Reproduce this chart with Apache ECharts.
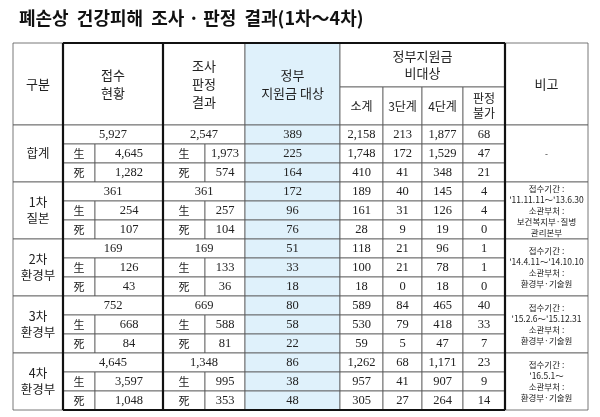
<!DOCTYPE html><html><head><meta charset="utf-8"><script src="https://cdn.jsdelivr.net/npm/echarts@6/dist/echarts.min.js"></script>
<style>html,body{margin:0;padding:0;background:#fff}#c{width:600px;height:417px}</style></head><body><div id="c"></div><script>
const title='폐손상  건강피해  조사 · 판정  결과(1차～4차)';
const groups=['합계','1차\n질본','2차\n환경부','3차\n환경부','4차\n환경부'];
const receipt=[[5927,4645,1282],[361,254,107],[169,126,43],[752,668,84],[4645,3597,1048]];
const survey=[[2547,1973,574],[361,257,104],[169,133,36],[669,588,81],[1348,995,353]];
const support=[[389,225,164],[172,96,76],[51,33,18],[80,58,22],[86,38,48]];
const subtotal=[[2158,1748,410],[189,161,28],[118,100,18],[589,530,59],[1262,957,305]];
const stage3=[[213,172,41],[40,31,9],[21,21,0],[84,79,5],[68,41,27]];
const stage4=[[1877,1529,348],[145,126,19],[96,78,18],[465,418,47],[1171,907,264]];
const unable=[[68,47,21],[4,4,0],[1,1,0],[40,33,7],[23,9,14]];
const notes=['-',"접수기간 :\n'11.11.11～'13.6.30\n소관부처 :\n보건복지부·질병\n관리본부","접수기간 :\n'14.4.11～'14.10.10\n소관부처 :\n환경부·기술원","접수기간 :\n'15.2.6～'15.12.31\n소관부처 :\n환경부·기술원","접수기간 :\n'16.5.1～\n소관부처 :\n환경부·기술원"];
const subLabels=['生','死'];

const X=[13,63,95,163,205,245,340,383,422,463,505,588];
const HT=43,HM=87,R0=125,RH=19;
const fmt=v=>v.toLocaleString('en-US');
const cells=[];
function cell(x0,y0,x1,y1,t,o){o=o||{};cells.push([x0,y0,x1,y1,t,o.fill||'#fff',o.fs||12.5,o.font||'Liberation Serif, Noto Serif CJK KR, Noto Sans CJK KR',o.lh||15]);}
const hf='Noto Sans CJK KR';
cell(X[0],HT,X[1],R0,'구분',{font:hf,fs:13});
cell(X[1],HT,X[3],R0,'접수\n현황',{font:hf,fs:13,lh:18});
cell(X[3],HT,X[5],R0,'조사\n판정\n결과',{font:hf,fs:13,lh:18});
cell(X[5],HT,X[6],R0,'정부\n지원금 대상',{font:hf,fs:13,lh:18,fill:'#dff1fb'});
cell(X[6],HT,X[10],HM,'정부지원금\n비대상',{font:hf,fs:13,lh:17});
['소계','3단계','4단계','판정\n불가'].forEach((t,i)=>cell(X[6+i],HM,X[7+i],R0,t,{font:hf,fs:12,lh:15}));
cell(X[10],HT,X[11],R0,'비고',{font:hf,fs:13});
groups.forEach((g,gi)=>{
  const y=R0+gi*3*RH;
  cell(X[0],y,X[1],y+3*RH,g,{font:hf,fs:12.5,lh:16});
  cell(X[10],y,X[11],y+3*RH,notes[gi],{font:hf,fs:8.5,lh:11});
  for(let r=0;r<3;r++){
    const a=y+r*RH,b=a+RH;
    if(r===0){cell(X[1],a,X[3],b,fmt(receipt[gi][0]));cell(X[3],a,X[5],b,fmt(survey[gi][0]));}
    else{cell(X[1],a,X[2],b,subLabels[r-1],{font:hf,fs:11});cell(X[2],a,X[3],b,fmt(receipt[gi][r]));
         cell(X[3],a,X[4],b,subLabels[r-1],{font:hf,fs:11});cell(X[4],a,X[5],b,fmt(survey[gi][r]));}
    cell(X[5],a,X[6],b,fmt(support[gi][r]),{fill:'#dff1fb'});
    [subtotal,stage3,stage4,unable].forEach((arr,k)=>cell(X[6+k],a,X[7+k],b,fmt(arr[gi][r])));
  }
});
const bottom=R0+15*RH;
const thick=[[X[1],HT,X[1],bottom],[X[3],HT,X[3],bottom],[X[10],HT,X[10],bottom],[X[1],HT,X[10],HT],[X[1],bottom,X[10],bottom]];
const chart=echarts.init(document.getElementById('c'));
chart.setOption({
  animation:false,
  title:{text:title,left:14,top:4,textStyle:{fontFamily:'Noto Sans CJK KR',fontSize:18,fontWeight:'bold',color:'#111'}},
  grid:{left:0,right:0,top:0,bottom:0},
  xAxis:{type:'value',min:0,max:600,show:false},
  yAxis:{type:'value',min:0,max:417,inverse:true,show:false},
  series:[{type:'custom',data:cells,renderItem:(p,api)=>{
    const d=cells[p.dataIndex];
    const a=api.coord([d[0],d[1]]),b=api.coord([d[2],d[3]]);
    return {type:'group',children:[
      {type:'rect',shape:{x:a[0],y:a[1],width:b[0]-a[0],height:b[1]-a[1]},style:{fill:d[5],stroke:'#555',lineWidth:0.8}},
      {type:'text',style:{text:d[4],x:(a[0]+b[0])/2,y:(a[1]+b[1])/2,align:'center',verticalAlign:'middle',fontSize:d[6],fontFamily:d[7],lineHeight:d[8],fill:'#222'}}
    ]};
  }},
  {type:'custom',data:thick,renderItem:(p,api)=>{
    const d=thick[p.dataIndex];const a=api.coord([d[0],d[1]]),b=api.coord([d[2],d[3]]);
    return {type:'line',shape:{x1:a[0],y1:a[1],x2:b[0],y2:b[1]},style:{stroke:'#111',lineWidth:2.2}};
  }}]
});
</script></body></html>
